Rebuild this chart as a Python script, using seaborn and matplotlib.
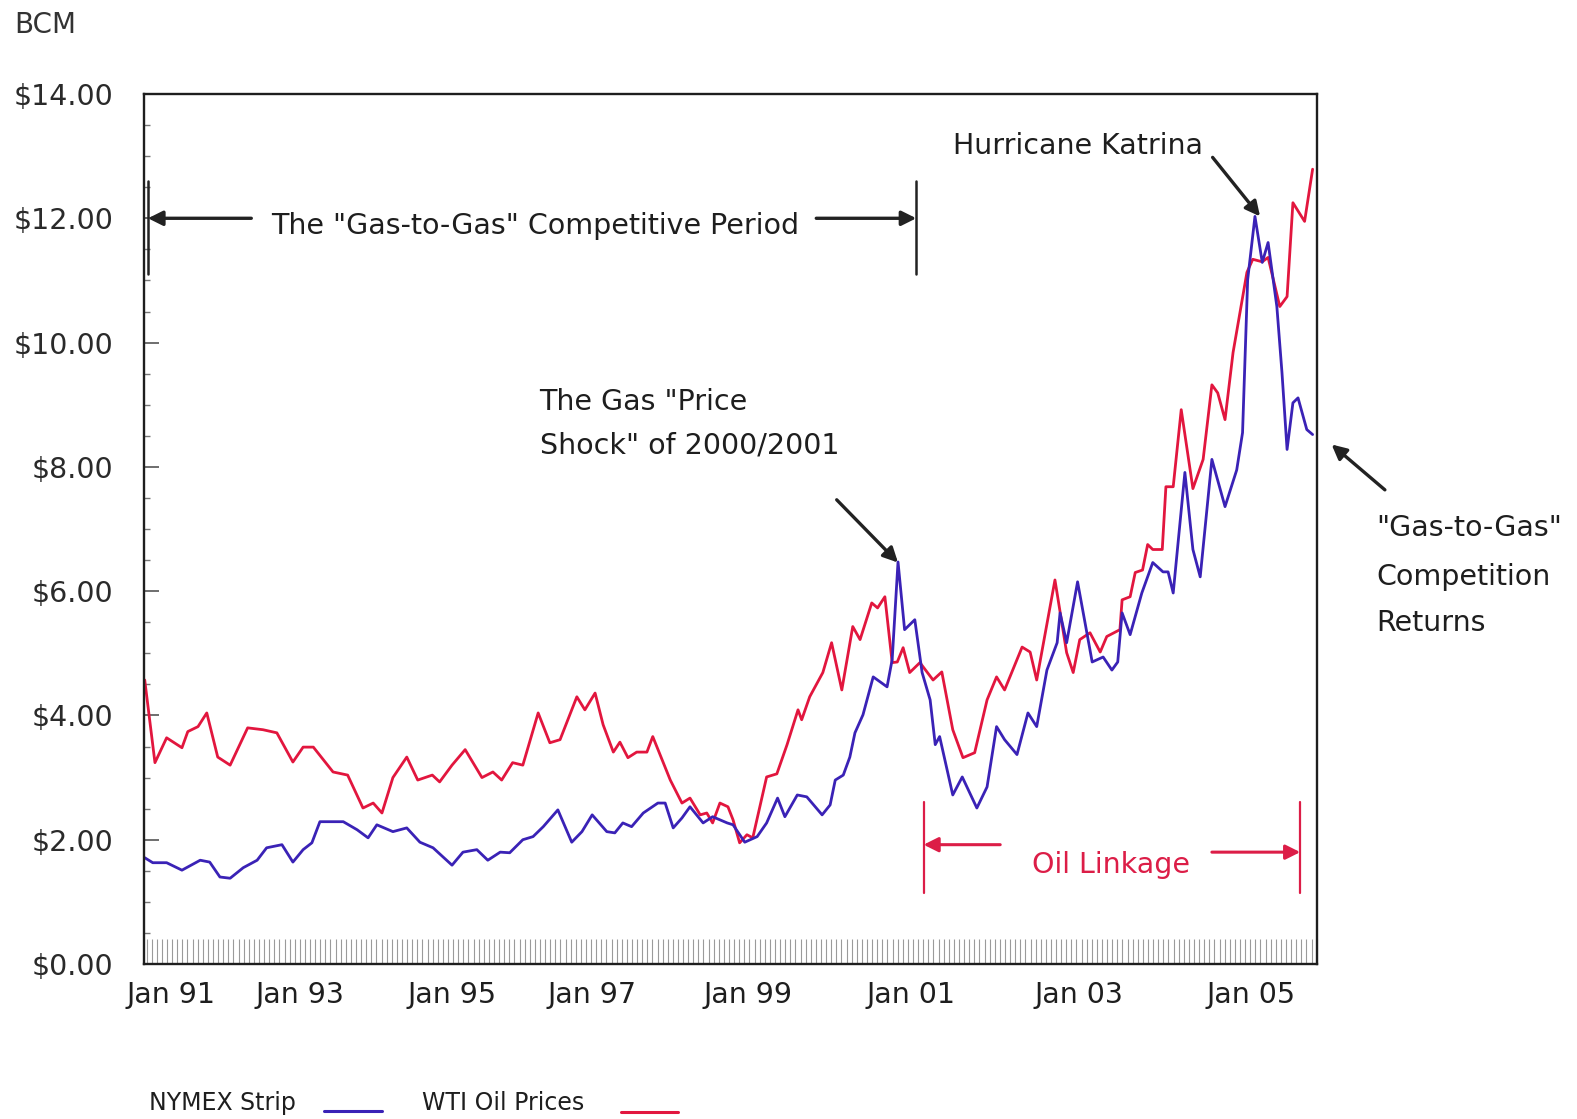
import numpy as np
import pandas as pd
import matplotlib
matplotlib.use("Agg")
import matplotlib.pyplot as plt
from matplotlib.lines import Line2D
import seaborn as sns

# month index from the left edge of the chart (about Sep 1990), price in $ per MMBtu
wti_months = [0.1, 1.5, 3.1, 5.2, 6.0, 7.4, 8.6, 10.1, 11.8, 14.2, 16.3, 18.2, 20.4, 21.8, 23.2,
              25.9, 27.9, 30.0, 31.4, 32.6, 34.1, 36.0, 37.5, 39.5, 40.5, 42.2, 44.0, 46.3, 47.8,
              49.0, 50.5, 51.9, 54.0, 55.6, 57.0, 59.3, 60.4, 61.8, 62.9, 64.3, 65.2, 66.3, 67.5,
              68.9, 69.7, 72.1, 73.7, 74.8, 76.2, 77.1, 77.9, 78.9, 80.0, 80.7, 81.6, 82.6, 83.4,
              85.3, 86.7, 88.1, 89.6, 90.1, 91.2, 93.0, 94.2, 95.6, 97.1, 98.1, 99.7, 100.5, 101.5,
              102.5, 103.2, 104.0, 104.9, 106.3, 108.1, 109.3, 110.8, 112.2, 113.8, 115.5, 116.8,
              117.9, 120.3, 121.4, 122.3, 124.8, 126.4, 127.3, 128.2, 129.6, 131.0, 131.9, 133.7,
              134.0, 135.1, 135.8, 136.8, 137.5, 138.2, 139.5, 140.0, 141.0, 142.1, 143.7, 145.1,
              146.3, 147.1, 148.1, 149.2, 151.1, 151.9, 153.2, 154.0, 155.6, 156.6, 157.4, 159.0,
              160.1]
wti_price = [4.57, 3.24, 3.64, 3.48, 3.74, 3.82, 4.04, 3.33, 3.20, 3.80, 3.77, 3.72, 3.25, 3.49, 3.49,
             3.09, 3.04, 2.51, 2.59, 2.43, 3.00, 3.33, 2.96, 3.04, 2.93, 3.20, 3.45, 3.00, 3.09,
             2.96, 3.24, 3.20, 4.04, 3.56, 3.61, 4.30, 4.09, 4.36, 3.85, 3.41, 3.57, 3.32, 3.41,
             3.41, 3.66, 2.96, 2.59, 2.67, 2.40, 2.43, 2.27, 2.59, 2.53, 2.32, 1.95, 2.08, 2.03,
             3.01, 3.06, 3.53, 4.09, 3.93, 4.30, 4.69, 5.17, 4.41, 5.43, 5.22, 5.81, 5.73, 5.91,
             4.85, 4.86, 5.09, 4.69, 4.85, 4.57, 4.70, 3.77, 3.32, 3.40, 4.25, 4.62,
             4.41, 5.10, 5.02, 4.57, 6.18, 5.01, 4.69, 5.22, 5.33, 5.02, 5.27, 5.38,
             5.86, 5.91, 6.30, 6.34, 6.75, 6.67, 6.67, 7.68, 7.68, 8.92, 7.65, 8.12,
             9.32, 9.19, 8.76, 9.84, 11.13, 11.34, 11.30, 11.37, 10.58, 10.74, 12.25, 11.95,
             12.79]

nymex_months = [0.1, 1.2, 3.1, 5.2, 7.7, 9.0, 10.4, 11.8, 13.6, 15.5, 16.8, 18.9, 20.4, 21.8, 23.0,
                24.1, 25.9, 27.3, 29.2, 30.7, 31.9, 34.1, 36.0, 37.8, 39.6, 42.2, 43.7, 45.6, 47.1,
                48.8, 50.1, 51.9, 53.3, 54.7, 56.7, 58.6, 60.0, 61.4, 63.4, 64.5, 65.6, 66.8, 68.4,
                70.4, 71.4, 72.5, 73.7, 74.8, 76.6, 77.9, 79.9, 80.7, 82.3, 84.0, 85.3, 86.8, 87.8,
                89.5, 90.8, 92.9, 94.0, 94.7, 95.8, 96.7, 97.4, 98.5, 99.9, 101.8, 102.5, 103.3,
                104.2, 105.6, 106.6, 107.7, 108.4, 109.0, 110.8, 112.1, 114.1, 115.5, 116.8, 117.9,
                119.6, 121.1, 122.3, 123.7, 125.1, 125.5, 126.4, 127.9, 129.9, 131.4, 132.6, 133.4,
                134.0, 135.1, 136.7, 138.2, 139.6, 140.3, 141.0, 142.6, 143.7, 144.7, 146.3, 148.1,
                149.7, 150.5, 151.2, 152.2, 153.2, 154.0, 155.2, 155.9, 156.6, 157.4, 158.1, 159.3,
                160.1]
nymex_price = [1.71, 1.63, 1.63, 1.51, 1.67, 1.64, 1.40, 1.38, 1.55, 1.67, 1.87, 1.92, 1.64, 1.84, 1.95,
               2.29, 2.29, 2.29, 2.16, 2.03, 2.24, 2.13, 2.19, 1.96, 1.87, 1.59, 1.80, 1.84, 1.67,
               1.80, 1.79, 2.00, 2.05, 2.21, 2.48, 1.96, 2.13, 2.40, 2.13, 2.11, 2.27, 2.21, 2.43,
               2.59, 2.59, 2.19, 2.35, 2.53, 2.27, 2.37, 2.27, 2.24, 1.96, 2.05, 2.27, 2.67, 2.37,
               2.72, 2.69, 2.40, 2.56, 2.96, 3.04, 3.33, 3.72, 4.01, 4.62, 4.46, 4.90, 6.47,
               5.38, 5.54, 4.69, 4.25, 3.53, 3.66, 2.72, 3.01, 2.51, 2.85, 3.82, 3.61,
               3.37, 4.04, 3.82, 4.73, 5.17, 5.65, 5.17, 6.15, 4.86, 4.94, 4.73, 4.86,
               5.65, 5.30, 5.97, 6.46, 6.31, 6.31, 5.97, 7.91, 6.67, 6.23, 8.12, 7.36,
               7.95, 8.55, 11.01, 12.03, 11.29, 11.61, 10.58, 9.52, 8.28, 9.03, 9.11, 8.60,
               8.52]

tick_months = [3.7, 21.4, 42.2, 61.4, 82.7, 105.1, 128.1, 151.6]
tick_labels = ["Jan 91", "Jan 93", "Jan 95", "Jan 97", "Jan 99", "Jan 01", "Jan 03", "Jan 05"]
y_ticks = [0, 2, 4, 6, 8, 10, 12, 14]

blue = "#3a22b6"
red = "#e2163e"
crimson = "#dc1d47"
ink = "#1e1e1e"

sns.set_theme(style="white")
plt.rcParams["font.family"] = ["DejaVu Sans"]

fig = plt.figure(figsize=(15.77, 11.19), dpi=100)
ax = fig.add_axes([144 / 1577, 1 - 964 / 1119, (1317 - 144) / 1577, (964 - 94) / 1119])

nymex = pd.DataFrame({"month": nymex_months, "price": nymex_price})
wti = pd.DataFrame({"month": wti_months, "price": wti_price})
sns.lineplot(data=wti, x="month", y="price", color=red, linewidth=2.0, ax=ax, sort=False)
sns.lineplot(data=nymex, x="month", y="price", color=blue, linewidth=2.0, ax=ax, sort=False)

ax.set_xlim(0, 160.7)
ax.set_ylim(0, 14)
ax.set_xlabel("")
ax.set_ylabel("")

for s in ax.spines.values():
    s.set_visible(True)
    s.set_color(ink)
    s.set_linewidth(1.7)

ax.set_yticks(y_ticks)
ax.set_yticklabels(["${:.2f}".format(v) for v in y_ticks])
ax.set_yticks(np.arange(0, 14.01, 0.5), minor=True)
ax.tick_params(axis="y", which="both", left=True)
ax.tick_params(axis="y", which="major", direction="in", length=11, width=1.2, color="#555",
               pad=22, labelsize=20.5, labelcolor="#2a2a2a")
ax.tick_params(axis="y", which="minor", direction="in", length=4, width=1, color="#777")

ax.set_xticks(tick_months)
ax.set_xticklabels(tick_labels)
ax.set_xticks(np.arange(0.35, 160.7, 0.7), minor=True)
ax.tick_params(axis="x", which="both", bottom=True)
ax.tick_params(axis="x", which="major", length=0, pad=12, labelsize=20.5, labelcolor="#1e1e1e")
ax.tick_params(axis="x", which="minor", direction="in", length=18, width=0.8, color="#9a9a9a")

txt = dict(fontsize=20.5, color=ink)
arr = dict(arrowstyle="-|>", color="#222", lw=2.4, mutation_scale=22, shrinkA=0, shrinkB=0)

# "Gas-to-Gas" competitive period bracket
ax.plot([0.55, 0.55], [11.1, 12.6], color="#222", lw=1.8, clip_on=False)
ax.plot([105.8, 105.8], [11.1, 12.6], color="#222", lw=1.8)
ax.annotate("", xy=(0.55, 12.0), xytext=(14.7, 12.0), arrowprops=arr)
ax.annotate("", xy=(105.8, 12.0), xytext=(92.1, 12.0), arrowprops=arr)
ax.text(53.6, 11.87, 'The "Gas-to-Gas" Competitive Period', ha="center", va="center", **txt)

# price shock
ax.text(54.2, 9.05, 'The Gas "Price', ha="left", va="center", **txt)
ax.text(54.2, 8.34, 'Shock" of 2000/2001', ha="left", va="center", **txt)
ax.annotate("", xy=(103.3, 6.46), xytext=(94.9, 7.47), arrowprops=arr)

# Katrina
ax.text(110.8, 13.17, "Hurricane Katrina", ha="left", va="center", **txt)
ax.annotate("", xy=(152.9, 12.03), xytext=(146.4, 12.98), arrowprops=arr)

# competition returns (outside the frame)
for yv, line in zip([7.02, 6.22, 5.49], ['"Gas-to-Gas"', "Competition", "Returns"]):
    ax.text(168.8, yv, line, ha="left", va="center", clip_on=False, **txt)
ax.annotate("", xy=(162.7, 8.36), xytext=(170.0, 7.63), arrowprops=arr, annotation_clip=False)

# oil linkage bracket
rarr = dict(arrowstyle="-|>", color=crimson, lw=2.2, mutation_scale=22, shrinkA=0, shrinkB=0)
ax.plot([106.8, 106.8], [1.14, 2.61], color=crimson, lw=1.6)
ax.plot([158.4, 158.4], [1.14, 2.61], color=crimson, lw=1.6)
ax.annotate("", xy=(106.8, 1.92), xytext=(117.3, 1.92), arrowprops=rarr)
ax.annotate("", xy=(158.4, 1.80), xytext=(146.3, 1.80), arrowprops=rarr)
ax.text(132.5, 1.59, "Oil Linkage", ha="center", va="center", fontsize=20.5, color=crimson)

fig.text(14 / 1577, 1 - 25 / 1119, "BCM", ha="left", va="center", fontsize=20, color="#333")

# legend row at the bottom
fig.text(149 / 1577, 1 - 1103 / 1119, "NYMEX Strip", ha="left", va="center", fontsize=17, color=ink)
fig.text(422 / 1577, 1 - 1103 / 1119, "WTI Oil Prices", ha="left", va="center", fontsize=17, color=ink)
fig.add_artist(Line2D([324 / 1577, 382 / 1577], [1 - 1111 / 1119] * 2, color=blue, lw=2.2))
fig.add_artist(Line2D([621 / 1577, 678 / 1577], [1 - 1112 / 1119] * 2, color=red, lw=2.2))

fig.savefig("out.png", dpi=100, facecolor="white")
